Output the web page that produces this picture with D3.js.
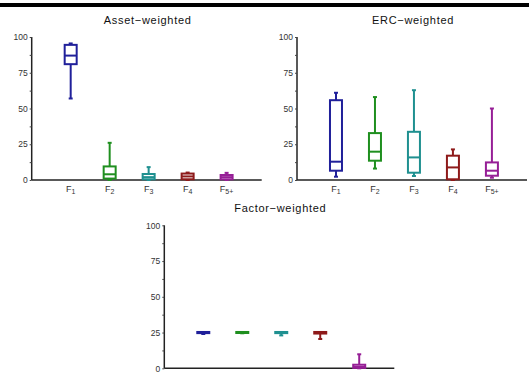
<!DOCTYPE html>
<html>
<head>
<meta charset="utf-8">
<script src="https://cdn.jsdelivr.net/npm/d3@7"></script>
<style>
  body { margin: 0; background: #fff; }
  svg { display: block; font-family: "Liberation Sans", Arial, sans-serif; }
</style>
</head>
<body>
<script>
// factor labels (base + subscript)
var categories = ["1", "2", "3", "4", "5+"];
var colors = ["#20209a", "#1f8f1f", "#1f9090", "#8e1a1a", "#961f96"];
var yTicks = [0, 25, 50, 75, 100];

// five number summaries: [min, q1, median, q3, max]
var assetStats = [
  [57, 81, 87, 94.5, 95.5],
  [0, 1, 4, 9.5, 26],
  [0, 0.5, 2, 4.2, 9],
  [0, 0.5, 2.5, 4.5, 5.2],
  [0, 0.5, 2, 3.5, 5]
];
var ercStats = [
  [2.3, 6.5, 12.8, 55.8, 61],
  [8, 13.5, 19.8, 32.8, 58],
  [2.8, 5.1, 15.8, 33.7, 62.8],
  [0, 0.5, 8.8, 17, 21.4],
  [1.6, 3, 6.5, 12.3, 50]
];
var factorStats = [
  [24, 24.6, 25, 25.4, 25.4],
  [24.5, 24.7, 25, 25.4, 25.4],
  [23, 24.6, 25, 25.4, 25.4],
  [20.5, 24.3, 25, 25.4, 25.4],
  [0, 0.3, 1, 2.5, 9.8]
];

var W = 529, H = 374;
var svg = d3.select("body").append("svg").attr("width", W).attr("height", H);

// black rule along the top
svg.append("rect").attr("x", 0).attr("y", 3).attr("width", W).attr("height", 4).attr("fill", "#000");

function panel(ox, oy, title, stats) {
  var g = svg.append("g").attr("transform", "translate(" + ox + "," + oy + ")");
  var x = d3.scaleLinear().domain([0, 5.9]).range([0, 230]);
  var y = d3.scaleLinear().domain([0, 100]).range([0, -143]);

  g.append("text").attr("x", 116).attr("y", -156).attr("text-anchor", "middle")
    .attr("font-size", 11).attr("letter-spacing", 0.7).attr("fill", "#111").text(title);

  // y axis with minor ticks
  var yAxis = d3.axisLeft(y).tickValues(d3.range(0, 101, 12.5)).tickSize(2)
    .tickFormat(function(d) { return yTicks.indexOf(d) >= 0 ? d : ""; });
  var ya = g.append("g").call(yAxis);
  ya.select(".domain").attr("stroke", "#222").attr("stroke-width", 1.5).attr("d", "M0,0V" + y(100));
  ya.selectAll(".tick line").attr("stroke", "#444");
  ya.selectAll(".tick text").attr("font-size", 8.5).attr("fill", "#333").attr("x", -4)
    .attr("font-family", "Liberation Sans, Arial, sans-serif");

  // x axis line
  g.append("line").attr("x1", 0).attr("x2", x(5.9)).attr("y1", 0).attr("y2", 0)
    .attr("stroke", "#222").attr("stroke-width", 1.5);

  var lab = g.selectAll(".xl").data(categories).enter().append("text")
    .attr("x", function(d, i) { return x(i + 1); }).attr("y", 12)
    .attr("text-anchor", "middle").attr("font-size", 9).attr("fill", "#333");
  lab.append("tspan").text("F");
  lab.append("tspan").attr("font-size", 7).attr("dy", 2).text(function(d) { return d; });

  var bw = 12, cw = 4;
  var b = g.selectAll(".box").data(stats).enter().append("g")
    .attr("stroke", function(d, i) { return colors[i]; })
    .attr("stroke-width", 2).attr("fill", "none");
  b.append("line")
    .attr("x1", function(d, i) { return x(i + 1); }).attr("x2", function(d, i) { return x(i + 1); })
    .attr("y1", function(d) { return y(d[0]); }).attr("y2", function(d) { return y(d[4]); });
  b.append("line")
    .attr("x1", function(d, i) { return x(i + 1) - cw / 2; }).attr("x2", function(d, i) { return x(i + 1) + cw / 2; })
    .attr("y1", function(d) { return y(d[0]); }).attr("y2", function(d) { return y(d[0]); });
  b.append("line")
    .attr("x1", function(d, i) { return x(i + 1) - cw / 2; }).attr("x2", function(d, i) { return x(i + 1) + cw / 2; })
    .attr("y1", function(d) { return y(d[4]); }).attr("y2", function(d) { return y(d[4]); });
  b.append("rect")
    .attr("x", function(d, i) { return x(i + 1) - bw / 2; }).attr("width", bw)
    .attr("y", function(d) { return y(d[3]); })
    .attr("height", function(d) { return y(d[1]) - y(d[3]); })
    .attr("fill", "#fff");
  b.append("line")
    .attr("x1", function(d, i) { return x(i + 1) - bw / 2; }).attr("x2", function(d, i) { return x(i + 1) + bw / 2; })
    .attr("y1", function(d) { return y(d[2]); }).attr("y2", function(d) { return y(d[2]); });
}

panel(31.7, 180, "Asset\u2212weighted", assetStats);
panel(297, 180, "ERC\u2212weighted", ercStats);
panel(164.3, 368.3, "Factor\u2212weighted", factorStats);
</script>
</body>
</html>
